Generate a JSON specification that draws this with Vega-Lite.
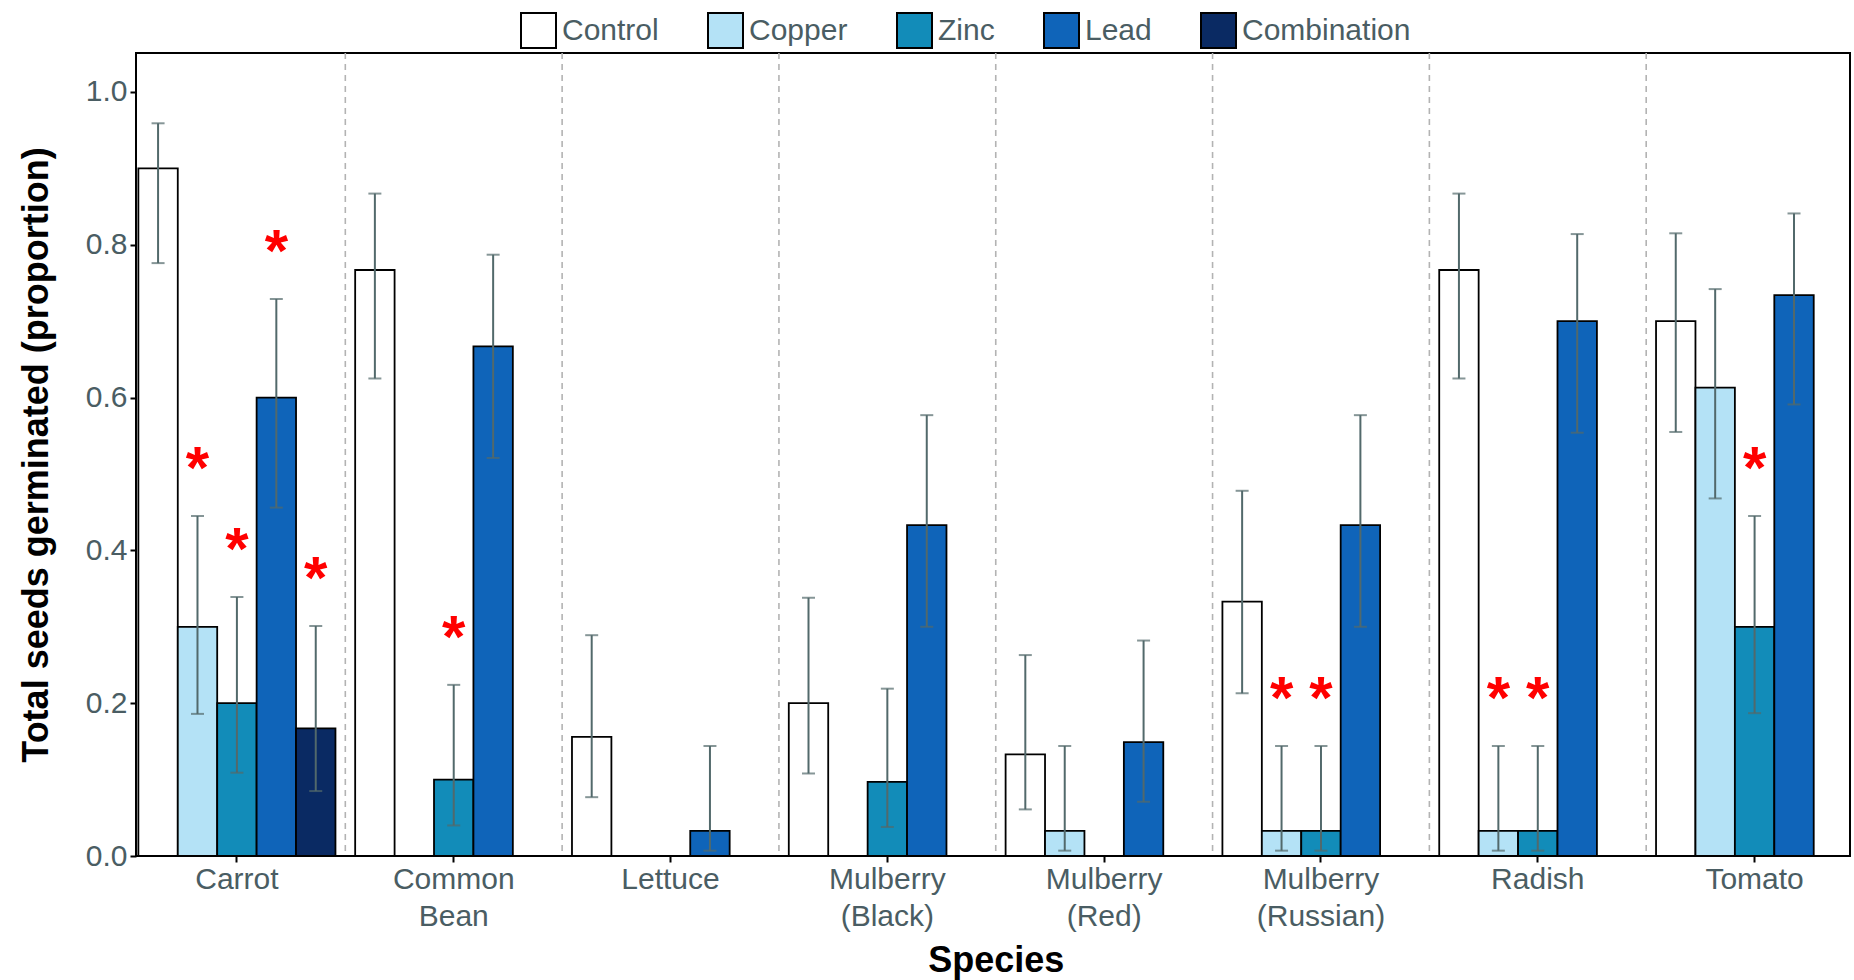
{
  "$schema": "https://vega.github.io/schema/vega-lite/v6.json",
  "width": 1714,
  "height": 803,
  "autosize": {"type": "none"},
  "padding": {"left": 136, "top": 53, "right": 4, "bottom": 124},
  "background": "white",
  "config": {
    "view": {"stroke": "black", "strokeWidth": 2},
    "font": "Liberation Sans"
  },
  "datasets": {
    "germ": [
      {"species": "Carrot", "treatment": "Control", "value": 0.9, "lo": 0.776, "hi": 0.959, "sig": false},
      {"species": "Carrot", "treatment": "Copper", "value": 0.3, "lo": 0.186, "hi": 0.445, "sig": true},
      {"species": "Carrot", "treatment": "Zinc", "value": 0.2, "lo": 0.109, "hi": 0.339, "sig": true},
      {"species": "Carrot", "treatment": "Lead", "value": 0.6, "lo": 0.456, "hi": 0.729, "sig": true},
      {"species": "Carrot", "treatment": "Combination", "value": 0.167, "lo": 0.085, "hi": 0.301, "sig": true},
      {"species": "Common Bean", "treatment": "Control", "value": 0.767, "lo": 0.625, "hi": 0.867, "sig": false},
      {"species": "Common Bean", "treatment": "Zinc", "value": 0.1, "lo": 0.04, "hi": 0.224, "sig": true},
      {"species": "Common Bean", "treatment": "Lead", "value": 0.667, "lo": 0.521, "hi": 0.787, "sig": false},
      {"species": "Lettuce", "treatment": "Control", "value": 0.156, "lo": 0.077, "hi": 0.289, "sig": false},
      {"species": "Lettuce", "treatment": "Lead", "value": 0.033, "lo": 0.007, "hi": 0.144, "sig": false},
      {"species": "Mulberry (Black)", "treatment": "Control", "value": 0.2, "lo": 0.108, "hi": 0.338, "sig": false},
      {"species": "Mulberry (Black)", "treatment": "Zinc", "value": 0.097, "lo": 0.038, "hi": 0.219, "sig": false},
      {"species": "Mulberry (Black)", "treatment": "Lead", "value": 0.433, "lo": 0.3, "hi": 0.577, "sig": false},
      {"species": "Mulberry (Red)", "treatment": "Control", "value": 0.133, "lo": 0.061, "hi": 0.263, "sig": false},
      {"species": "Mulberry (Red)", "treatment": "Copper", "value": 0.033, "lo": 0.007, "hi": 0.144, "sig": false},
      {"species": "Mulberry (Red)", "treatment": "Lead", "value": 0.149, "lo": 0.071, "hi": 0.282, "sig": false},
      {"species": "Mulberry (Russian)", "treatment": "Control", "value": 0.333, "lo": 0.213, "hi": 0.478, "sig": false},
      {"species": "Mulberry (Russian)", "treatment": "Copper", "value": 0.033, "lo": 0.007, "hi": 0.144, "sig": true},
      {"species": "Mulberry (Russian)", "treatment": "Zinc", "value": 0.033, "lo": 0.007, "hi": 0.144, "sig": true},
      {"species": "Mulberry (Russian)", "treatment": "Lead", "value": 0.433, "lo": 0.3, "hi": 0.577, "sig": false},
      {"species": "Radish", "treatment": "Control", "value": 0.767, "lo": 0.625, "hi": 0.867, "sig": false},
      {"species": "Radish", "treatment": "Copper", "value": 0.033, "lo": 0.007, "hi": 0.144, "sig": true},
      {"species": "Radish", "treatment": "Zinc", "value": 0.033, "lo": 0.007, "hi": 0.144, "sig": true},
      {"species": "Radish", "treatment": "Lead", "value": 0.7, "lo": 0.554, "hi": 0.814, "sig": false},
      {"species": "Tomato", "treatment": "Control", "value": 0.7, "lo": 0.555, "hi": 0.815, "sig": false},
      {"species": "Tomato", "treatment": "Copper", "value": 0.613, "lo": 0.468, "hi": 0.742, "sig": false},
      {"species": "Tomato", "treatment": "Zinc", "value": 0.3, "lo": 0.187, "hi": 0.445, "sig": true},
      {"species": "Tomato", "treatment": "Lead", "value": 0.734, "lo": 0.591, "hi": 0.841, "sig": false}
    ],
    "bounds": [
      {"species": "Common Bean"},
      {"species": "Lettuce"},
      {"species": "Mulberry (Black)"},
      {"species": "Mulberry (Red)"},
      {"species": "Mulberry (Russian)"},
      {"species": "Radish"},
      {"species": "Tomato"}
    ]
  },
  "layer": [
    {
      "data": {"name": "bounds"},
      "mark": {"type": "rule", "color": "#b3b3b3", "strokeDash": [6, 5], "strokeWidth": 1.6},
      "encoding": {
        "x": {"field": "species", "type": "nominal", "bandPosition": 0}
      }
    },
    {
      "data": {"name": "germ"},
      "mark": {"type": "bar", "stroke": "black", "strokeWidth": 1.8},
      "encoding": {
        "x": {
          "field": "species", "type": "nominal",
          "scale": {
            "domain": ["Carrot", "Common Bean", "Lettuce", "Mulberry (Black)", "Mulberry (Red)", "Mulberry (Russian)", "Radish", "Tomato"],
            "range": [-7.5, 1727],
            "paddingInner": 0, "paddingOuter": 0
          },
          "axis": {
            "title": "Species",
            "labelExpr": "split(datum.label, ' ')",
            "labelAngle": 0,
            "labelAlign": "center",
            "labelBaseline": "top",
            "labelFontSize": 30,
            "labelColor": "#4a5d63",
            "labelLineHeight": 37,
            "labelPadding": 2,
            "tickSize": 6,
            "tickColor": "black",
            "tickWidth": 2,
            "domain": false,
            "titleFontSize": 36,
            "titleFontWeight": "bold",
            "titleColor": "black",
            "titlePadding": 12
          }
        },
        "xOffset": {
          "field": "treatment", "type": "nominal",
          "scale": {"domain": ["Control", "Copper", "Zinc", "Lead", "Combination"], "paddingInner": 0, "paddingOuter": 0.25}
        },
        "y": {
          "field": "value", "type": "quantitative",
          "scale": {"domain": [0, 1.051], "nice": false, "zero": true},
          "axis": {
            "title": "Total seeds germinated (proportion)",
            "values": [0, 0.2, 0.4, 0.6, 0.8, 1.0],
            "format": ".1f",
            "grid": false,
            "domain": false,
            "labelFontSize": 30,
            "labelColor": "#4a5d63",
            "labelPadding": 3,
            "tickSize": 6,
            "tickColor": "black",
            "tickWidth": 2,
            "titleFontSize": 36,
            "titleFontWeight": "bold",
            "titleColor": "black",
            "titlePadding": 30
          }
        },
        "fill": {
          "field": "treatment", "type": "nominal",
          "scale": {
            "domain": ["Control", "Copper", "Zinc", "Lead", "Combination"],
            "range": ["#ffffff", "#b4e2f6", "#128cb9", "#0f64b9", "#0a2a63"]
          },
          "legend": {
            "orient": "none",
            "legendX": 384,
            "legendY": -41,
            "direction": "horizontal",
            "title": null,
            "symbolType": "square",
            "symbolSize": 1225,
            "symbolStrokeColor": "black",
            "symbolStrokeWidth": 2,
            "symbolOpacity": 1,
            "labelFontSize": 30,
            "labelColor": "#4a5d63",
            "labelOffset": 5,
            "labelLimit": 400,
            "columnPadding": 45
          }
        }
      }
    },
    {
      "data": {"name": "germ"},
      "mark": {"type": "rule", "color": "#52696b", "strokeWidth": 2},
      "encoding": {
        "x": {"field": "species", "type": "nominal"},
        "xOffset": {"field": "treatment", "type": "nominal"},
        "y": {"field": "lo", "type": "quantitative"},
        "y2": {"field": "hi"}
      }
    },
    {
      "data": {"name": "germ"},
      "mark": {"type": "tick", "color": "#52696b", "thickness": 2, "size": 13},
      "encoding": {
        "x": {"field": "species", "type": "nominal"},
        "xOffset": {"field": "treatment", "type": "nominal"},
        "y": {"field": "hi", "type": "quantitative"}
      }
    },
    {
      "data": {"name": "germ"},
      "mark": {"type": "tick", "color": "#52696b", "thickness": 2, "size": 13},
      "encoding": {
        "x": {"field": "species", "type": "nominal"},
        "xOffset": {"field": "treatment", "type": "nominal"},
        "y": {"field": "lo", "type": "quantitative"}
      }
    },
    {
      "data": {"name": "germ"},
      "transform": [{"filter": "datum.sig"}],
      "mark": {"type": "text", "text": "*", "color": "#ff0000", "fontSize": 60, "fontWeight": "bold", "baseline": "alphabetic", "dy": -28},
      "encoding": {
        "x": {"field": "species", "type": "nominal"},
        "xOffset": {"field": "treatment", "type": "nominal"},
        "y": {"field": "hi", "type": "quantitative"}
      }
    }
  ]
}
